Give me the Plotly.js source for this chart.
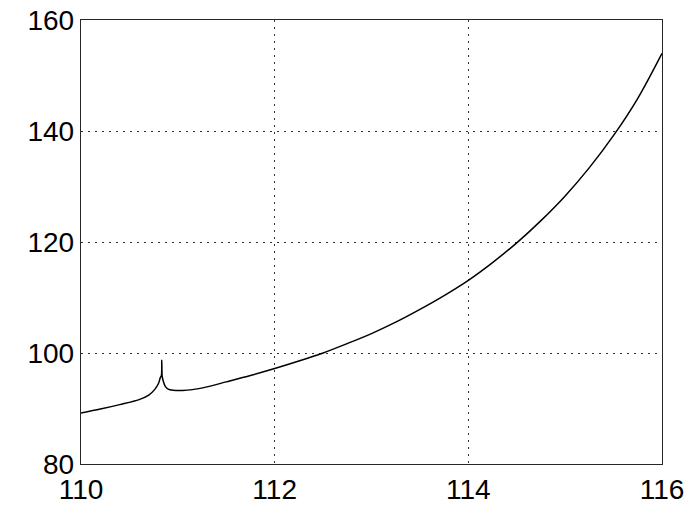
<!DOCTYPE html>
<html>
<head>
<meta charset="utf-8">
<script src="https://cdn.plot.ly/plotly-3.0.1.min.js"></script>
<style>
  html, body { margin: 0; padding: 0; background: #fff; }
  #plot { width: 696px; height: 509px; }
</style>
</head>
<body>
<div id="plot"></div>
<script>
// Response curve: frequency-like abscissa vs. magnitude, with a narrow spike near 110.83
const xValues = [
  110.0, 110.2, 110.4, 110.6, 110.7, 110.76, 110.8, 110.82, 110.83, 110.834, 110.838,
  110.85, 110.87, 110.9, 110.95, 111.05, 111.15, 111.3, 111.5, 111.75,
  112.0, 112.25, 112.5, 112.75, 113.0, 113.25, 113.5, 113.75,
  114.0, 114.25, 114.5, 114.75, 115.0, 115.25, 115.5, 115.75, 116.0
];
const yValues = [
  89.2, 89.9, 90.7, 91.6, 92.4, 93.4, 94.5, 95.6, 95.9, 98.7, 95.9,
  94.9, 94.0, 93.5, 93.3, 93.25, 93.4, 93.9, 94.8, 95.95,
  97.2, 98.55, 100.0, 101.7, 103.5, 105.55, 107.85, 110.35,
  113.1, 116.3, 119.85, 123.85, 128.3, 133.4, 139.2, 145.9, 154.0
];
const xTicks = [110, 112, 114, 116];
const yTicks = [80, 100, 120, 140, 160];

const trace = {
  x: xValues,
  y: yValues,
  type: 'scatter',
  mode: 'lines',
  line: { color: '#000000', width: 1.5, shape: 'spline', smoothing: 0.9 },
  hoverinfo: 'skip'
};

const axisCommon = {
  showline: true,
  mirror: true,
  linecolor: '#262626',
  linewidth: 1.3,
  showgrid: true,
  gridcolor: '#333333',
  gridwidth: 1,
  griddash: '2px,5px',
  zeroline: false,
  ticks: '',
  tickfont: { family: 'Liberation Sans, Arial, sans-serif', size: 28, color: '#000' }
};

const layout = {
  width: 696,
  height: 509,
  margin: { l: 81, r: 34, t: 20, b: 45 },
  paper_bgcolor: '#ffffff',
  plot_bgcolor: '#ffffff',
  showlegend: false,
  xaxis: Object.assign({}, axisCommon, {
    range: [110, 116],
    tickmode: 'array',
    tickvals: xTicks,
    ticktext: xTicks.map(String)
  }),
  yaxis: Object.assign({}, axisCommon, {
    range: [80, 160],
    tickmode: 'array',
    tickvals: yTicks,
    ticktext: yTicks.map(String)
  })
};

Plotly.newPlot('plot', [trace], layout, { displayModeBar: false, staticPlot: true });
</script>
</body>
</html>
